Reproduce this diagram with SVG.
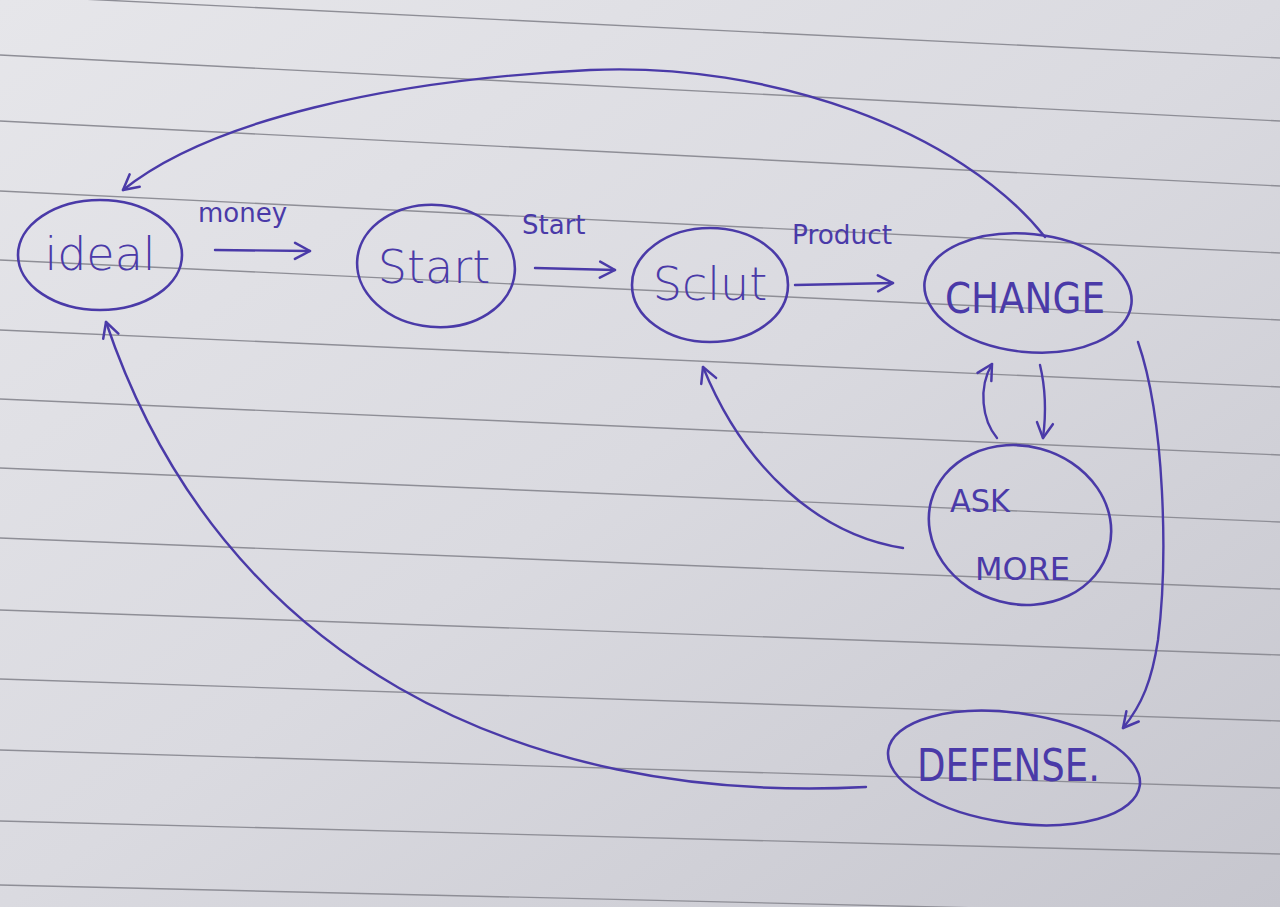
<svg xmlns="http://www.w3.org/2000/svg" width="1280" height="907" viewBox="0 0 1280 907">
<defs>
<linearGradient id="paper" x1="0" y1="0" x2="1" y2="1">
<stop offset="0" stop-color="#e6e6ea"/>
<stop offset="0.5" stop-color="#dadae0"/>
<stop offset="1" stop-color="#c6c6ce"/>
</linearGradient>
<marker id="arr" markerUnits="userSpaceOnUse" viewBox="0 0 20 20" markerWidth="20" markerHeight="20" refX="18" refY="10" orient="auto">
<path d="M3,2 L18,10 L3,18" fill="none" stroke="#4a3aa8" stroke-width="2.5" stroke-linecap="round" stroke-linejoin="round"/>
</marker>
<style>
.rule{stroke:#8e8e96;stroke-width:1.4;fill:none}
.node{fill:none;stroke:#4a3aa8;stroke-width:2.6}
.edge{fill:none;stroke:#4a3aa8;stroke-width:2.4;stroke-linecap:round;marker-end:url(#arr)}
.lbl{font-family:"DejaVu Sans","Liberation Sans",sans-serif;fill:#4a3aa8}
.big{font-size:46px;font-weight:300}
.small{font-size:26px}
</style>
</defs>
<rect x="0" y="0" width="1280" height="907" fill="url(#paper)"/>
<g id="paper-rules">
<line class="rule" x1="0" y1="-5" x2="1280" y2="58"/>
<line class="rule" x1="0" y1="55" x2="1280" y2="121"/>
<line class="rule" x1="0" y1="121" x2="1280" y2="186"/>
<line class="rule" x1="0" y1="191" x2="1280" y2="253"/>
<line class="rule" x1="0" y1="260" x2="1280" y2="320"/>
<line class="rule" x1="0" y1="330" x2="1280" y2="387"/>
<line class="rule" x1="0" y1="399" x2="1280" y2="455"/>
<line class="rule" x1="0" y1="468" x2="1280" y2="522"/>
<line class="rule" x1="0" y1="538" x2="1280" y2="589"/>
<line class="rule" x1="0" y1="610" x2="1280" y2="655"/>
<line class="rule" x1="0" y1="679" x2="1280" y2="721"/>
<line class="rule" x1="0" y1="750" x2="1280" y2="788"/>
<line class="rule" x1="0" y1="821" x2="1280" y2="854"/>
<line class="rule" x1="0" y1="885" x2="1280" y2="915"/>
</g>
<g id="connectors">
<path class="edge" d="M215,250 L310,251"/>
<path class="edge" d="M535,268 L615,270"/>
<path class="edge" d="M795,285 L893,283"/>
<path class="edge" d="M1045,237 C 960,130 770,62 590,70 C 390,80 210,120 123,190"/>
<path class="edge" d="M866,787 C 520,805 220,660 106,322"/>
<path class="edge" d="M903,548 C 820,535 745,470 703,367"/>
<path class="edge" d="M1138,342 C 1165,420 1168,560 1158,640 C 1152,680 1142,705 1123,728"/>
<path class="edge" d="M997,438 C 982,420 978,388 992,364"/>
<path class="edge" d="M1040,365 C 1046,390 1046,415 1043,438"/>
<text class="lbl small" x="198" y="222">money</text>
<text class="lbl small" x="522" y="234">Start</text>
<text class="lbl small" x="792" y="244" textLength="100" lengthAdjust="spacingAndGlyphs">Product</text>
</g>
<g id="node-ideal">
<ellipse class="node" cx="100" cy="255" rx="82" ry="55"/>
<text class="lbl big" x="100" y="270" text-anchor="middle">ideal</text>
</g>
<g id="node-start">
<ellipse class="node" cx="436" cy="266" rx="79" ry="61" transform="rotate(5 436 266)"/>
<text class="lbl big" x="434" y="283" text-anchor="middle">Start</text>
</g>
<g id="node-sclut">
<ellipse class="node" cx="710" cy="285" rx="78" ry="57"/>
<text class="lbl big" x="710" y="300" text-anchor="middle">Sclut</text>
</g>
<g id="node-change">
<ellipse class="node" cx="1028" cy="293" rx="104" ry="59" transform="rotate(6 1028 293)"/>
<text class="lbl" x="945" y="313" font-size="42" textLength="160" lengthAdjust="spacingAndGlyphs">CHANGE</text>
</g>
<g id="node-askmore">
<ellipse class="node" cx="1020" cy="525" rx="92" ry="79" transform="rotate(15 1020 525)"/>
<text class="lbl" x="950" y="512" font-size="32" textLength="60" lengthAdjust="spacingAndGlyphs">ASK</text>
<text class="lbl" x="975" y="580" font-size="32" textLength="95" lengthAdjust="spacingAndGlyphs">MORE</text>
</g>
<g id="node-defense">
<ellipse class="node" cx="1014" cy="768" rx="127" ry="55" transform="rotate(8 1014 768)"/>
<text class="lbl" x="917" y="781" font-size="44" textLength="183" lengthAdjust="spacingAndGlyphs">DEFENSE.</text>
</g>
</svg>
